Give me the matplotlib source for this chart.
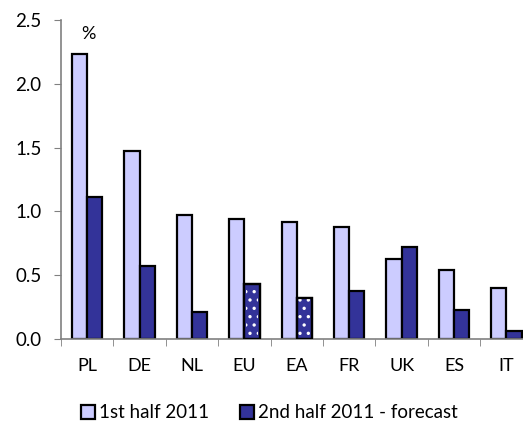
import matplotlib
matplotlib.use("Agg")
import matplotlib.pyplot as plt
import numpy as np

countries = ["PL", "DE", "NL", "EU", "EA", "FR", "UK", "ES", "IT"]
h1_2011 = [2.23, 1.47, 0.97, 0.94, 0.92, 0.88, 0.63, 0.54, 0.40]
h2_2011 = [1.11, 0.57, 0.21, 0.43, 0.32, 0.38, 0.72, 0.23, 0.06]
dotted = ["EU", "EA"]

plt.rcParams['font.family'] = ['Lato', 'DejaVu Sans']

fig = plt.figure(figsize=(5.23, 4.23), dpi=100)
ax = fig.add_axes([61/523, 0.1986, 471.6/523, 0.7541])

x = np.arange(len(countries))
w = 0.29
light = "#CCCCFF"
dark = "#333399"

ax.bar(x - w/2, h1_2011, w, color=light, edgecolor="black", linewidth=1.6,
       label="1st half 2011", zorder=2)
ax.bar(x + w/2, h2_2011, w, color=dark, edgecolor="black", linewidth=1.6,
       label="2nd half 2011 - forecast", zorder=2)

# white dotted pattern on some forecast bars
plt.rcParams['hatch.linewidth'] = 1.2
for i, c in enumerate(countries):
    if c in dotted:
        ax.bar(x[i] + w/2, h2_2011[i], w * 0.8, fill=False, edgecolor="white",
               hatch="..", linewidth=0, zorder=3)
        ax.bar(x[i] + w/2, h2_2011[i], w, fill=False, edgecolor="black",
               linewidth=1.6, zorder=4)

ax.set_xlim(-0.5, len(countries) - 0.5)
ax.set_ylim(0, 2.5)
ax.set_yticks(np.arange(0, 2.51, 0.5))
ax.set_yticklabels([f"{v:.1f}" for v in np.arange(0, 2.51, 0.5)], fontsize=13.5)
ax.set_xticks(x)
ax.set_xticklabels(countries, fontsize=13)
ax.set_xticks(np.arange(-0.5, len(countries), 1), minor=True)
ax.tick_params(axis="x", which="major", length=0, pad=14)
ax.tick_params(axis="x", which="minor", length=5, color="#808080", direction="out")
ax.tick_params(axis="y", length=5, color="#808080", direction="out", pad=9)

for s in ["top", "right"]:
    ax.spines[s].set_visible(False)
for s in ["left", "bottom"]:
    ax.spines[s].set_color("#808080")
    ax.spines[s].set_linewidth(1.2)

ax.text(0.02, 2.45, "%", fontsize=13, va="top", ha="center")

handles, labels = ax.get_legend_handles_labels()
fig.legend(handles, labels, loc="center", bbox_to_anchor=(0.515, 0.024), ncol=2,
           frameon=False, fontsize=13.5, handlelength=0.75, handleheight=0.75,
           handletextpad=0.25, columnspacing=1.6)

fig.savefig("out.png", dpi=100)
